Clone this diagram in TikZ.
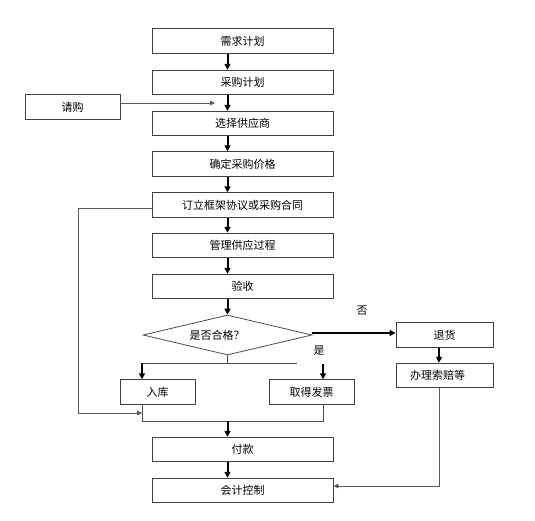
\documentclass[tikz,border=0pt]{standalone}
\usepackage{fontspec}
\newfontfamily\cjk{Noto Sans CJK SC}
\usetikzlibrary{shapes.geometric,arrows.meta}
\begin{document}
\begin{tikzpicture}[x=1pt,y=-1pt,
  font=\cjk\fontsize{11}{13}\selectfont,
  box/.style={draw=black!75,line width=0.9pt,minimum height=24.5pt,inner sep=0pt},
  mainbox/.style={box,minimum width=181pt},
  thickarr/.style={line width=2pt,-{Triangle[length=6pt,width=6pt]}},
  thinline/.style={draw=black!65,line width=0.8pt},
  thinarr/.style={thinline,-{Triangle[length=5pt,width=4.5pt]}}]
\useasboundingbox[fill=white] (0,0) rectangle (535,520);
% main column
\node[mainbox] (b1) at (242.5,41) {需求计划};
\node[mainbox] (b2) at (242.5,82.5) {采购计划};
\node[mainbox] (b3) at (242.5,123.5) {选择供应商};
\node[mainbox] (b4) at (242.5,164) {确定采购价格};
\node[mainbox] (b5) at (242.5,205) {订立框架协议或采购合同};
\node[mainbox] (b6) at (242.5,245.5) {管理供应过程};
\node[mainbox] (b7) at (242.5,286.5) {验收};
\node[draw=black!70,line width=0.8pt,diamond,minimum width=169pt,minimum height=40pt,inner sep=0pt] (dia) at (227.5,335) {};
\node (diatext) at (217,335) {是否合格？};
\node[box,minimum width=75pt] (ruku) at (157.5,392) {入库};
\node[box,minimum width=85pt] (fp) at (311.5,392) {取得发票};
\node[mainbox] (fk) at (242.5,449.5) {付款};
\node[mainbox] (kj) at (242.5,490.5) {会计控制};
\node[box,minimum width=95pt] (qg) at (72.5,107) {请购};
\node[box,minimum width=97pt] (th) at (444.5,335) {退货};
\node[box,minimum width=97pt] (bl) at (444.5,375.5) {\hspace*{-14pt}办理索赔等};
\node (no) at (362,311) {否};
\node (yes) at (319,351) {是};
% coordinates
\coordinate (jL) at (142,363);
\coordinate (jR) at (297,363);
\coordinate (fpIn) at (323,364);
\coordinate (bL) at (142,421);
\coordinate (bR) at (323,421);
\coordinate (lp) at (78,413);
\coordinate (qgEnd) at (215,103);
\coordinate (rx) at (439,486);
% main arrows
\foreach \a/\b in {b1/b2,b2/b3,b3/b4,b4/b5,b5/b6,b6/b7,b7/dia,fk/kj}
  \draw[thickarr] (\a.south -| dia) -- (\b.north -| dia);
% decision branches
\draw[line width=0.9pt,black!70] (dia.south) -- (dia.south |- jL);
\draw[line width=0.9pt,black!70] (jL) -- (jR);
\draw[thickarr] (jL) -- (ruku.north -| jL);
\draw[thickarr] (fpIn) -- (fp.north -| fpIn);
\draw[line width=0.9pt,black!70] (ruku.south -| jL) -- (bL) -- (bR) -- (fp.south -| bR);
\draw[thickarr] (bL -| dia) -- (fk.north -| dia);
% left loop
\draw[thinarr] ([yshift=-3pt]b5.west) -| (lp) -- (lp -| jL);
% request
\draw[thinarr] ([yshift=4pt]qg.east) -- (qgEnd);
% reject path
\draw[thickarr,line width=1.2pt] ([yshift=2pt]dia.east) -- ([yshift=2pt]th.west);
\draw[thickarr] (th.south -| rx) -- (bl.north -| rx);
\draw[thinarr] (bl.south -| rx) -- (rx) -- (rx -| kj.east);
\end{tikzpicture}
\end{document}
